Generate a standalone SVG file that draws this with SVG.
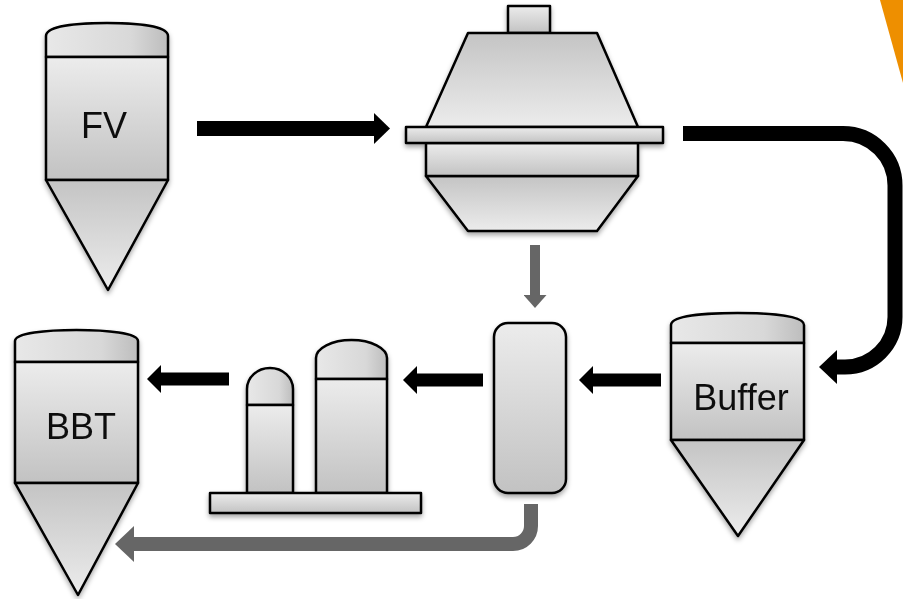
<svg xmlns="http://www.w3.org/2000/svg" width="903" height="599" viewBox="0 0 903 599">
  <defs>
    <style>
      .part { stroke: #000; stroke-width: 2.5; stroke-linejoin: round; }
      .label { font-family: "Liberation Sans", Arial, sans-serif; font-size: 36px; fill: #111; text-anchor: middle; }
      .flow-main { fill: none; stroke: #000; }
      .flow-side { fill: none; stroke: #666; }
    </style>
    <!-- vertical shading: light top to dark bottom -->
    <linearGradient id="gDown" x1="0" y1="0" x2="0" y2="1">
      <stop offset="0" stop-color="#ececec"/>
      <stop offset="1" stop-color="#c2c2c2"/>
    </linearGradient>
    <!-- vertical shading: dark top to light bottom -->
    <linearGradient id="gUp" x1="0" y1="0" x2="0" y2="1">
      <stop offset="0" stop-color="#c4c4c4"/>
      <stop offset="1" stop-color="#ececec"/>
    </linearGradient>
    <!-- dome shading: light left to darker right -->
    <linearGradient id="gDome" x1="0" y1="0" x2="1" y2="0">
      <stop offset="0" stop-color="#e8e8e8"/>
      <stop offset="0.7" stop-color="#d8d8d8"/>
      <stop offset="1" stop-color="#bdbdbd"/>
    </linearGradient>
    <filter id="shadow" x="-20%" y="-20%" width="140%" height="140%">
      <feDropShadow dx="0" dy="3" stdDeviation="2.5" flood-color="#000" flood-opacity="0.35"/>
    </filter>
    <marker id="headBlack" markerUnits="userSpaceOnUse" markerWidth="16" markerHeight="31" refX="0" refY="15.5" orient="auto">
      <path d="M0,0 L16,15.5 L0,31 Z" fill="#000"/>
    </marker>
    <marker id="headBlackSm" markerUnits="userSpaceOnUse" markerWidth="14" markerHeight="28" refX="0" refY="14" orient="auto">
      <path d="M0,0 L14,14 L0,28 Z" fill="#000"/>
    </marker>
    <marker id="headBlackLg" markerUnits="userSpaceOnUse" markerWidth="18" markerHeight="34" refX="0" refY="17" orient="auto">
      <path d="M0,0 L18,17 L0,34 Z" fill="#000"/>
    </marker>
    <marker id="headGraySm" markerUnits="userSpaceOnUse" markerWidth="13" markerHeight="23" refX="0" refY="11.5" orient="auto">
      <path d="M0,0 L13,11.5 L0,23 Z" fill="#666"/>
    </marker>
    <marker id="headGrayLg" markerUnits="userSpaceOnUse" markerWidth="19" markerHeight="36" refX="0" refY="18" orient="auto">
      <path d="M0,0 L19,18 L0,36 Z" fill="#666"/>
    </marker>
  </defs>

  <rect width="903" height="599" fill="#fff"/>

  <!-- corner accent -->
  <polygon points="880,0 903,0 903,83" fill="#ee8f00"/>

  <!-- FV tank -->
  <g id="fv" filter="url(#shadow)">
    <path class="part" fill="url(#gDome)" d="M46,57 V36 C46,26 76,23 107,23 C138,23 168,26 168,36 V57 Z"/>
    <rect class="part" fill="url(#gDown)" x="46" y="57" width="122" height="123"/>
    <path class="part" fill="url(#gUp)" d="M46,180 H168 L108,290 Z"/>
    <text class="label" x="104" y="138">FV</text>
  </g>

  <!-- Centrifuge -->
  <g id="centrifuge" filter="url(#shadow)">
    <rect class="part" fill="url(#gDown)" x="508" y="6" width="42" height="27"/>
    <path class="part" fill="url(#gUp)" d="M468,33 H597 L638,127 H426 Z"/>
    <path class="part" fill="url(#gUp)" d="M426,176 H638 L597,231 H468 Z"/>
    <rect class="part" fill="url(#gDown)" x="426" y="143" width="212" height="33"/>
    <rect class="part" fill="url(#gDown)" x="406" y="127" width="257" height="16"/>
  </g>

  <!-- Buffer tank -->
  <g id="buffer" filter="url(#shadow)">
    <path class="part" fill="url(#gDome)" d="M671,343 V325 C671,316 704,313 737.5,313 C771,313 804,316 804,325 V343 Z"/>
    <rect class="part" fill="url(#gDown)" x="671" y="343" width="133" height="97"/>
    <path class="part" fill="url(#gUp)" d="M671,440 H804 L738,536 Z"/>
    <text class="label" x="741" y="410">Buffer</text>
  </g>

  <!-- Filter -->
  <g id="filter" filter="url(#shadow)">
    <rect class="part" fill="url(#gDown)" x="494" y="323" width="72" height="170" rx="14" ry="14"/>
  </g>

  <!-- Chromatography columns on base plate -->
  <g id="columns" filter="url(#shadow)">
    <path class="part" fill="url(#gDome)" d="M247,405 V389 A23,21 0 0 1 293,389 V405 Z"/>
    <rect class="part" fill="url(#gDown)" x="247" y="405" width="46" height="88"/>
    <path class="part" fill="url(#gDome)" d="M316,379 V358 A35.5,18 0 0 1 387,358 V379 Z"/>
    <rect class="part" fill="url(#gDown)" x="316" y="379" width="71" height="114"/>
    <rect class="part" fill="url(#gDown)" x="210" y="493" width="211" height="20"/>
  </g>

  <!-- BBT tank -->
  <g id="bbt" filter="url(#shadow)">
    <path class="part" fill="url(#gDome)" d="M15,362 V341 C15,333 46,330 76.5,330 C107,330 138,333 138,341 V362 Z"/>
    <rect class="part" fill="url(#gDown)" x="15" y="362" width="123" height="121"/>
    <path class="part" fill="url(#gUp)" d="M15,483 H138 L78,595 Z"/>
    <text class="label" x="81" y="439">BBT</text>
  </g>

  <!-- Flow connectors -->
  <g id="connectors">
    <path class="flow-main" stroke-width="15" d="M197,128.5 H374" marker-end="url(#headBlack)"/>
    <path class="flow-main" stroke-width="15" d="M683,133.5 H843 A52,52 0 0 1 895,185.5 V317 A50,50 0 0 1 845,367 H837" marker-end="url(#headBlackLg)"/>
    <path class="flow-main" stroke-width="13" d="M661,380 H593" marker-end="url(#headBlackSm)"/>
    <path class="flow-main" stroke-width="13" d="M483,380 H417" marker-end="url(#headBlackSm)"/>
    <path class="flow-main" stroke-width="13" d="M229,379 H161" marker-end="url(#headBlackSm)"/>
    <path class="flow-side" stroke-width="10" d="M535,245 V295" marker-end="url(#headGraySm)"/>
    <path class="flow-side" stroke-width="14" d="M531,504 V526 A18,18 0 0 1 513,544 H134" marker-end="url(#headGrayLg)"/>
  </g>
</svg>
